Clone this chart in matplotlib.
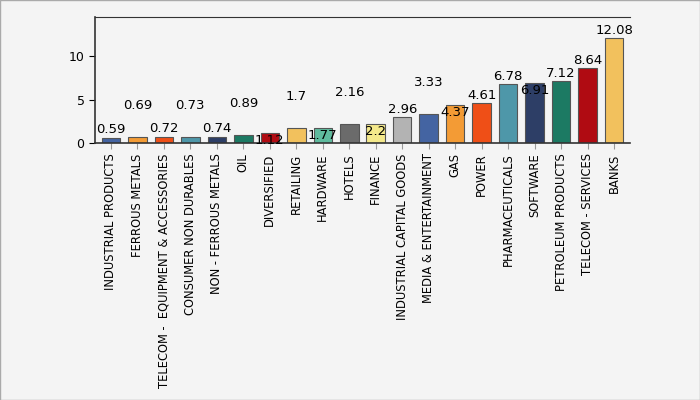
import matplotlib
matplotlib.use("Agg")
import matplotlib.pyplot as plt

categories = ["INDUSTRIAL PRODUCTS","FERROUS METALS","TELECOM -  EQUIPMENT & ACCESSORIES","CONSUMER NON DURABLES",
 "NON - FERROUS METALS","OIL","DIVERSIFIED","RETAILING","HARDWARE","HOTELS","FINANCE","INDUSTRIAL CAPITAL GOODS",
 "MEDIA & ENTERTAINMENT","GAS","POWER","PHARMACEUTICALS","SOFTWARE","PETROLEUM PRODUCTS","TELECOM - SERVICES","BANKS"]
values = [0.59,0.69,0.72,0.73,0.74,0.89,1.12,1.7,1.77,2.16,2.2,2.96,3.33,4.37,4.61,6.78,6.91,7.12,8.64,12.08]
labels = ["0.59","0.69","0.72","0.73","0.74","0.89","1.12","1.7","1.77","2.16","2.2","2.96","3.33","4.37","4.61","6.78","6.91","7.12","8.64","12.08"]
colors = ["#4464a2","#f39b35","#ef4f17","#4e97a9","#2d3e66","#1c7a63","#b00b12","#f2c15d","#5fbb9e","#6b6b6b",
          "#f4e98b","#b3b3b3","#4464a2","#f39b35","#ef4f17","#4e97a9","#2d3e66","#1c7a63","#b00b12","#f2c15d"]
# label offsets in points (layout)
offs = [1,18,1,18,1,18,-10,18,-10,18,-10,1,18,-10,1,1,-10,1,1,1]

fig = plt.figure(figsize=(7,4), dpi=100, facecolor="#f4f4f4")
ax = fig.add_axes([95/700, 1-143/400, 535/700, 126/400])
ax.set_facecolor("#f4f4f4")
x = range(len(values))
ax.bar(x, values, width=0.7, color=colors, edgecolor=["#555555"]*len(values), linewidth=0.8)
for i,(v,l) in enumerate(zip(values,labels)):
    ax.annotate(l, (i, v), xytext=(0, offs[i]), textcoords="offset points", ha="center", va="bottom", fontsize=9.5)
ax.set_xlim(-0.6, len(values)-0.4)
ax.set_ylim(0, 14.5)
ax.set_yticks([0,5,10])
ax.set_xticks(list(x))
ax.set_xticklabels(categories, rotation=90, fontsize=8.3)
ax.tick_params(axis="y", labelsize=9, length=4)
ax.tick_params(axis="x", length=4, color="#999999")
ax.spines["right"].set_visible(False)
for s in ["top","left","bottom"]:
    ax.spines[s].set_color("#333333")
for sp in ["left","bottom"]:
    ax.spines[sp].set_linewidth(1.2)
fig.patches.append(plt.Rectangle((0,0),1,1,transform=fig.transFigure,fill=False,edgecolor="#aaaaaa",linewidth=1))
fig.savefig("out.png", dpi=100, facecolor=fig.get_facecolor())
